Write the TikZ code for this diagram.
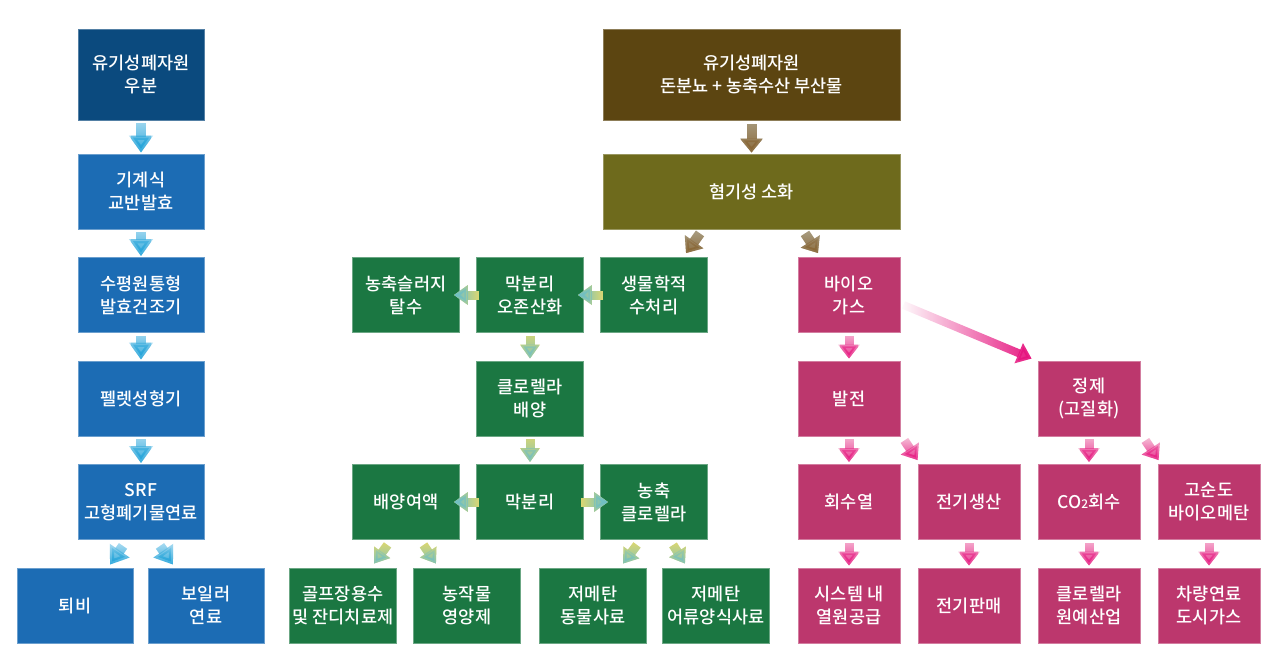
\documentclass[tikz,border=0pt]{standalone}
\usepackage{fontspec}
\setmainfont{Noto Sans CJK KR Medium}
\usetikzlibrary{arrows.meta,fadings}

\definecolor{navy}{HTML}{0B4A7E}
\definecolor{blu}{HTML}{1C6CB4}
\definecolor{brn}{HTML}{5C4511}
\definecolor{olv}{HTML}{6E6A1C}
\definecolor{grn}{HTML}{1B7742}
\definecolor{pnk}{HTML}{BC376D}
\definecolor{arrB}{HTML}{1AA0D8}
\definecolor{arrBl}{HTML}{B5E0F3}
\definecolor{arrG}{HTML}{6FBFC4}
\definecolor{arrGl}{HTML}{E3D96C}
\definecolor{arrR}{HTML}{876331}
\definecolor{arrRl}{HTML}{ABA188}
\definecolor{arrP}{HTML}{E6157F}
\definecolor{arrPl}{HTML}{F7C9DC}

\begin{document}
\begin{tikzpicture}[x=1pt,y=-1pt,node distance=103.5pt]
  \tikzstyle{box}=[rectangle,inner sep=0pt,align=center,text=white,line width=0.8pt,font=\fontsize{17.5}{23}\selectfont]
  \tikzstyle{navybox}=[box,fill=navy,draw=navy!70!white,minimum width=126pt,minimum height=91pt]
  \tikzstyle{bluebox}=[box,fill=blu,draw=blu!65!white,minimum width=126pt,minimum height=75pt]
  \tikzstyle{blueend}=[bluebox,minimum width=116pt]
  \tikzstyle{brownbox}=[box,fill=brn,draw=brn!70!white,minimum width=297pt,minimum height=91pt]
  \tikzstyle{olivebox}=[box,fill=olv,draw=olv!70!white,minimum width=297pt,minimum height=75pt]
  \tikzstyle{greenbox}=[box,fill=grn,draw=grn!65!white,minimum width=107pt,minimum height=75pt]
  \tikzstyle{pinkbox}=[box,fill=pnk,draw=pnk!65!white,minimum width=102pt,minimum height=75pt]
  \tikzset{
    flowblue/.style={line width=10pt,-{Triangle[length=17pt,width=23pt]},draw=arrBl,postaction={draw=arrB,path fading=#1}},
    flowblue/.default=north,
    flowbrown/.style={line width=10pt,-{Triangle[length=14pt,width=22pt]},draw=arrRl,postaction={draw=arrR,path fading=#1}},
    flowbrown/.default=north,
    flowgreen/.style={line width=9pt,-{Triangle[length=14pt,width=19pt]},draw=arrGl,postaction={draw=arrG,path fading=#1}},
    flowgreen/.default=north,
    flowpink/.style={line width=9pt,-{Triangle[length=14pt,width=21pt]},draw=arrPl,postaction={draw=arrP,path fading=#1}},
    flowpink/.default=north
  }

  \useasboundingbox (0,0) rectangle (1276,670);

  % SRF line
  \node[navybox] (cow) at (141,74.5) {유기성폐자원\\우분};
  \node[bluebox, below of=cow, node distance=117pt] (mixer) {기계식\\교반발효};
  \node[bluebox, below of=mixer] (dryer) {수평원통형\\발효건조기};
  \node[bluebox, below of=dryer] (pellet) {펠렛성형기};
  \node[bluebox, below of=pellet] (srf) {SRF\\고형폐기물연료};
  \node[blueend, below of=srf, xshift=-66pt] (compost) {퇴비};
  \node[blueend, below of=srf, xshift=65pt] (boiler) {보일러\\연료};

  % anaerobic line
  \node[brownbox] (pig) at (751.5,74.5) {유기성폐자원\\돈분뇨 + 농축수산 부산물};
  \node[olivebox, below of=pig, node distance=117pt] (digest) {혐기성 소화};

  % water treatment
  \node[greenbox, below of=digest, xshift=-97.5pt] (bio) {생물학적\\수처리};
  \node[greenbox, left of=bio, node distance=124pt] (ozone) {막분리\\오존산화};
  \node[greenbox, left of=ozone, node distance=124pt] (sludge) {농축슬러지\\탈수};
  \node[greenbox, below of=ozone] (culture) {클로렐라\\배양};
  \node[greenbox, below of=culture] (membr) {막분리};
  \node[greenbox, left of=membr, node distance=124pt] (broth) {배양여액};
  \node[greenbox, right of=membr, node distance=124pt] (conc) {농축\\클로렐라};
  \node[greenbox, below of=broth, xshift=-63pt] (golf) {골프장용수\\및 잔디치료제};
  \node[greenbox, below of=broth, xshift=61pt] (crop) {농작물\\영양제};
  \node[greenbox, below of=conc, xshift=-61pt] (feed) {저메탄\\동물사료};
  \node[greenbox, below of=conc, xshift=62pt] (fish) {저메탄\\어류양식사료};

  % biogas
  \node[pinkbox, below of=digest, xshift=97.5pt] (gas) {바이오\\가스};
  \node[pinkbox, below of=gas] (power) {발전};
  \node[pinkbox, right of=power, node distance=240pt] (purify) {정제\\(고질화)};
  \node[pinkbox, below of=power] (heat) {회수열};
  \node[pinkbox, right of=heat, node distance=120pt] (elec) {전기생산};
  \node[pinkbox, below of=purify] (co2) {CO{\fontsize{12}{12}\selectfont 2}회수};
  \node[pinkbox, right of=co2, node distance=120pt] (methane) {고순도\\바이오메탄};
  \node[pinkbox, below of=heat] (supply) {시스템 내\\열원공급};
  \node[pinkbox, below of=elec] (sale) {전기판매};
  \node[pinkbox, below of=co2] (garden) {클로렐라\\원예산업};
  \node[pinkbox, below of=methane] (car) {차량연료\\도시가스};

  % edges
  \draw[flowblue, shorten <=3pt, shorten >=1pt] (cow) -- (mixer);
  \draw[flowblue, shorten <=3pt, shorten >=1pt] (mixer) -- (dryer);
  \draw[flowblue, shorten <=3pt, shorten >=1pt] (dryer) -- (pellet);
  \draw[flowblue, shorten <=3pt, shorten >=1pt] (pellet) -- (srf);
  \draw[flowblue] ([xshift=-18pt,yshift=-6pt]srf.south) -- ([xshift=35pt,yshift=3pt]compost.north);
  \draw[flowblue] ([xshift=19pt,yshift=-6pt]srf.south) -- ([xshift=-33pt,yshift=3pt]boiler.north);

  \draw[flowbrown, shorten <=4pt, shorten >=1pt] (pig) -- (digest);
  \draw[flowbrown] ([xshift=-51.5pt,yshift=-4pt]digest.south) -- ([xshift=32pt,yshift=4pt]bio.north);
  \draw[flowbrown] ([xshift=53.5pt,yshift=-4pt]digest.south) -- ([xshift=-31pt,yshift=4pt]gas.north);

  \draw[flowgreen=east, shorten <=-3pt, shorten >=-6pt] (bio) -- (ozone);
  \draw[flowgreen=east, shorten <=-3pt, shorten >=-6pt] (ozone) -- (sludge);
  \draw[flowgreen, shorten <=3pt, shorten >=2pt] (ozone) -- (culture);
  \draw[flowgreen, shorten <=3pt, shorten >=2pt] (culture) -- (membr);
  \draw[flowgreen=east, shorten <=-3pt, shorten >=-6pt] (membr) -- (broth);
  \draw[flowgreen=west, shorten <=-3pt, shorten >=-8pt] (membr) -- (conc);
  \draw[flowgreen] ([xshift=-18.5pt,yshift=-5pt]broth.south) -- ([xshift=31pt,yshift=4pt]golf.north);
  \draw[flowgreen] ([xshift=17.5pt,yshift=-5pt]broth.south) -- ([xshift=-31pt,yshift=4pt]crop.north);
  \draw[flowgreen] ([xshift=-17pt,yshift=-5pt]conc.south) -- ([xshift=30pt,yshift=4pt]feed.north);
  \draw[flowgreen] ([xshift=19pt,yshift=-5pt]conc.south) -- ([xshift=-31pt,yshift=4pt]fish.north);

  \draw[flowpink, shorten <=3pt, shorten >=2pt] (gas) -- (power);
  \draw[flowpink=west, draw=white, line width=8pt] ([xshift=3pt,yshift=-10pt]gas.east) -- ([xshift=-6pt,yshift=2pt]purify.north west);
  \draw[flowpink, shorten <=3pt, shorten >=2pt] (power) -- (heat);
  \draw[flowpink] ([xshift=4pt,yshift=-4pt]power.south east) -- ([yshift=4pt]elec.north west);
  \draw[flowpink, shorten <=3pt, shorten >=2pt] (purify) -- (co2);
  \draw[flowpink] ([xshift=5pt,yshift=-4pt]purify.south east) -- ([xshift=1pt,yshift=4pt]methane.north west);
  \draw[flowpink, shorten <=3pt, shorten >=2pt] (heat) -- (supply);
  \draw[flowpink, shorten <=3pt, shorten >=2pt] (elec) -- (sale);
  \draw[flowpink, shorten <=3pt, shorten >=2pt] (co2) -- (garden);
  \draw[flowpink, shorten <=3pt, shorten >=2pt] (methane) -- (car);

\end{tikzpicture}
\end{document}
